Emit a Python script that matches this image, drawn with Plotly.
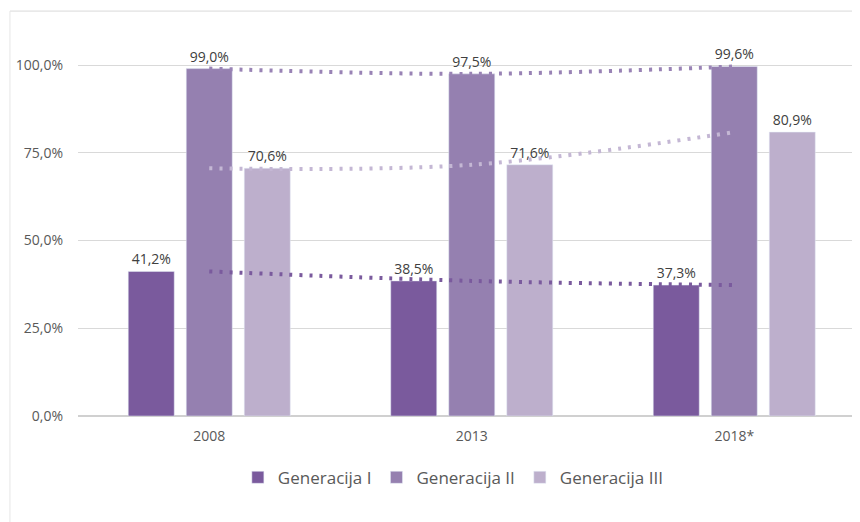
import plotly.graph_objects as go

years = ["2008", "2013", "2018*"]
gen_1 = [0.412, 0.385, 0.373]
gen_2 = [0.990, 0.975, 0.996]
gen_3 = [0.706, 0.716, 0.809]

names = ["Generacija I", "Generacija II", "Generacija III"]
bar_colors = ["#7a5a9d", "#9580b0", "#bdafcc"]
line_colors = ["#7a5a9d", "#9983b5", "#c4b7d4"]

fig = go.Figure()

# bars
for name, vals, col in zip(names, [gen_1, gen_2, gen_3], bar_colors):
    fig.add_trace(go.Bar(
        x=years, y=vals, name=name, marker_color=col,
        text=[f"{v*100:.1f}%".replace(".", ",") for v in vals],
        textposition="outside", cliponaxis=False,
        textfont=dict(size=14, color="#404040"),
    ))

# dotted trend lines through group centers
for vals, col in zip([gen_1, gen_2, gen_3], line_colors):
    fig.add_trace(go.Scatter(
        x=years, y=vals, mode="lines", showlegend=False, hoverinfo="skip",
        line=dict(color=col, width=4, dash="3px,7px", shape="spline"),
    ))

# page body has an 8px margin, so the figure is a bit smaller than the window
fig.update_layout(
    width=852, height=514,
    paper_bgcolor="white", plot_bgcolor="white",
    font=dict(family="Open Sans, Noto Sans, sans-serif", size=14, color="#595959"),
    separators=",.",
    barmode="group", bargap=0.337, bargroupgap=0.207,
    margin=dict(l=70, r=0, t=22, b=106),
    legend=dict(orientation="h", x=0.48, xanchor="center", y=-0.16, yanchor="middle",
                font=dict(size=17, color="#595959"), itemwidth=30, traceorder="normal"),
    xaxis=dict(range=[-0.5, 2.479], showgrid=False, showline=False, ticks="",
               tickfont=dict(size=14), ticklabelstandoff=10),
    yaxis=dict(range=[0, 1.1], tickvals=[0, 0.25, 0.5, 0.75, 1.0], tickformat=".1%",
               gridcolor="#d9d9d9", gridwidth=1, zeroline=True, zerolinecolor="#d0d0d0",
               showline=False, ticks="", tickfont=dict(size=14), ticklabelstandoff=14),
    shapes=[
        dict(type="line", xref="paper", yref="paper", x0=-0.087, x1=1.0,
             y0=1.049, y1=1.049, line=dict(color="#d9d9d9", width=1)),
        dict(type="line", xref="paper", yref="paper", x0=-0.087, x1=-0.087,
             y0=1.049, y1=-0.275, line=dict(color="#e6e6e6", width=1)),
    ],
)

fig.write_html("out.html")
